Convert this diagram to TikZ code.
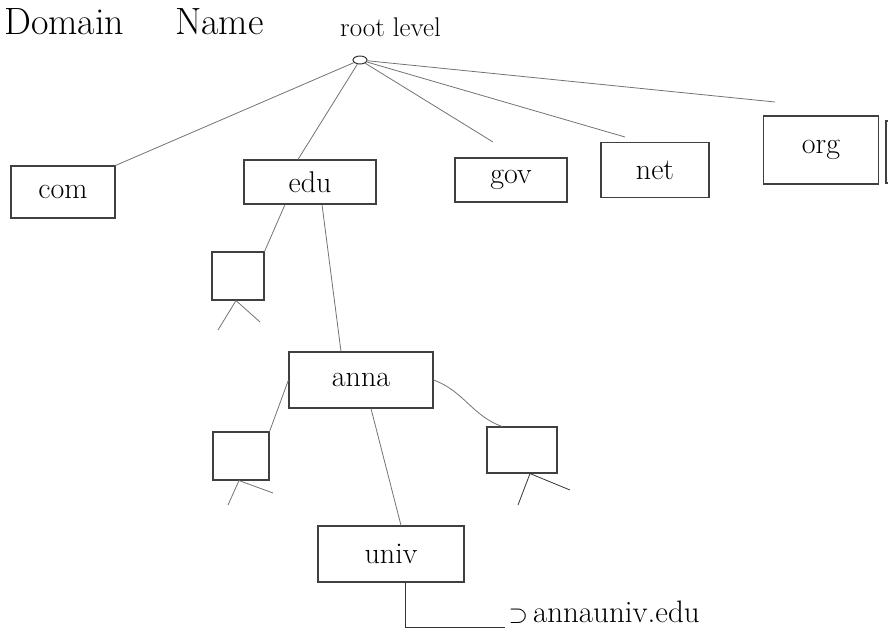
\documentclass[tikz,border=0pt]{standalone}
\usetikzlibrary{shapes.geometric}
\begin{document}
\begin{tikzpicture}[x=1pt,y=-1pt,
  box/.style={draw=black!75, line width=1.1pt, rectangle, inner sep=0pt, font=\fontsize{30}{34}\selectfont},
  leaf/.style={draw=black!75, line width=1.1pt, rectangle, inner sep=0pt},
  link/.style={draw=black!55, line width=0.8pt},
  big/.style={font=\fontsize{38}{42}\selectfont, inner sep=0pt},
  ]
\useasboundingbox (0,0) rectangle (888,638);
\clip (0,0) rectangle (888,638);
% header texts
\node[big, anchor=base west] (hd1) at (4,34) {Domain};
\node[big, anchor=base west] (hd2) at (175,34) {Name};
\node[font=\fontsize{27}{30}\selectfont, anchor=base west, inner sep=0pt] (rl) at (340,36) {root level};
% root
\node[draw=black!80, line width=1pt, ellipse, minimum width=14, minimum height=8, inner sep=0pt] (root) at (360,60) {};
% top level domains
\node[box, minimum width=104, minimum height=52] (com) at (63,192) {com};
\node[box, minimum width=132, minimum height=44] (edu) at (310,182) {edu};
\node[box, minimum width=112, minimum height=44] (gov) at (511,180) {gov};
\node[box, minimum width=108, minimum height=55] (net) at (655,170) {net};
\node[box, minimum width=115, minimum height=68] (org) at (821,150) {org};
\node[box, minimum width=60, minimum height=62] (more) at (916,152) {};
% root links
\coordinate (govend) at (493,142);
\coordinate (netend) at (625,137);
\coordinate (orgend) at (775,102);
\draw[link] (root) -- (com.north east);
\draw[link] (root) -- ([xshift=-12]edu.north);
\draw[link] (root) -- (govend);
\draw[link] (root) -- (netend);
\draw[link] (root) -- (orgend);
% edu subtree
\node[leaf, minimum width=52, minimum height=48] (e1) at (238,276) {};
\draw[link] ([xshift=-25]edu.south) -- (e1.north east);
\coordinate (e1a) at (218,330);
\coordinate (e1b) at (260,322);
\draw[link] ([xshift=-2]e1.south) -- (e1a);
\draw[link] ([xshift=-2]e1.south) -- (e1b);
% anna
\node[box, minimum width=144, minimum height=56] (anna) at (361,380) {anna};
\draw[link] ([xshift=12]edu.south) -- ([xshift=-20]anna.north);
\node[leaf, minimum width=56, minimum height=48] (a1) at (241,456) {};
\node[leaf, minimum width=70, minimum height=46] (a2) at (522,450) {};
\draw[link] (anna.west) -- (a1.north east);
\draw[link] (anna.east) to[out=-20,in=160] ([xshift=-20]a2.north);
\coordinate (a1a) at (228,505);
\coordinate (a1b) at (273,493);
\coordinate (a2a) at (518,505);
\coordinate (a2b) at (570,490);
\draw[link] ([xshift=-2]a1.south) -- (a1a);
\draw[link] ([xshift=-2]a1.south) -- (a1b);
\draw[link, draw=black!80] ([xshift=8]a2.south) -- (a2a);
\draw[link, draw=black!80] ([xshift=8]a2.south) -- (a2b);
% univ
\node[box, minimum width=146, minimum height=56] (univ) at (391,554) {univ};
\draw[link] ([xshift=10]anna.south) -- ([xshift=10]univ.north);
% result
\node[font=\fontsize{31}{34}\selectfont, anchor=base west] (res) at (505,622) {$\supset$\,annauniv.edu};
\draw[draw=black!80, line width=1pt] ([xshift=14]univ.south) |- (res.west |- 0,627);
\end{tikzpicture}
\end{document}
